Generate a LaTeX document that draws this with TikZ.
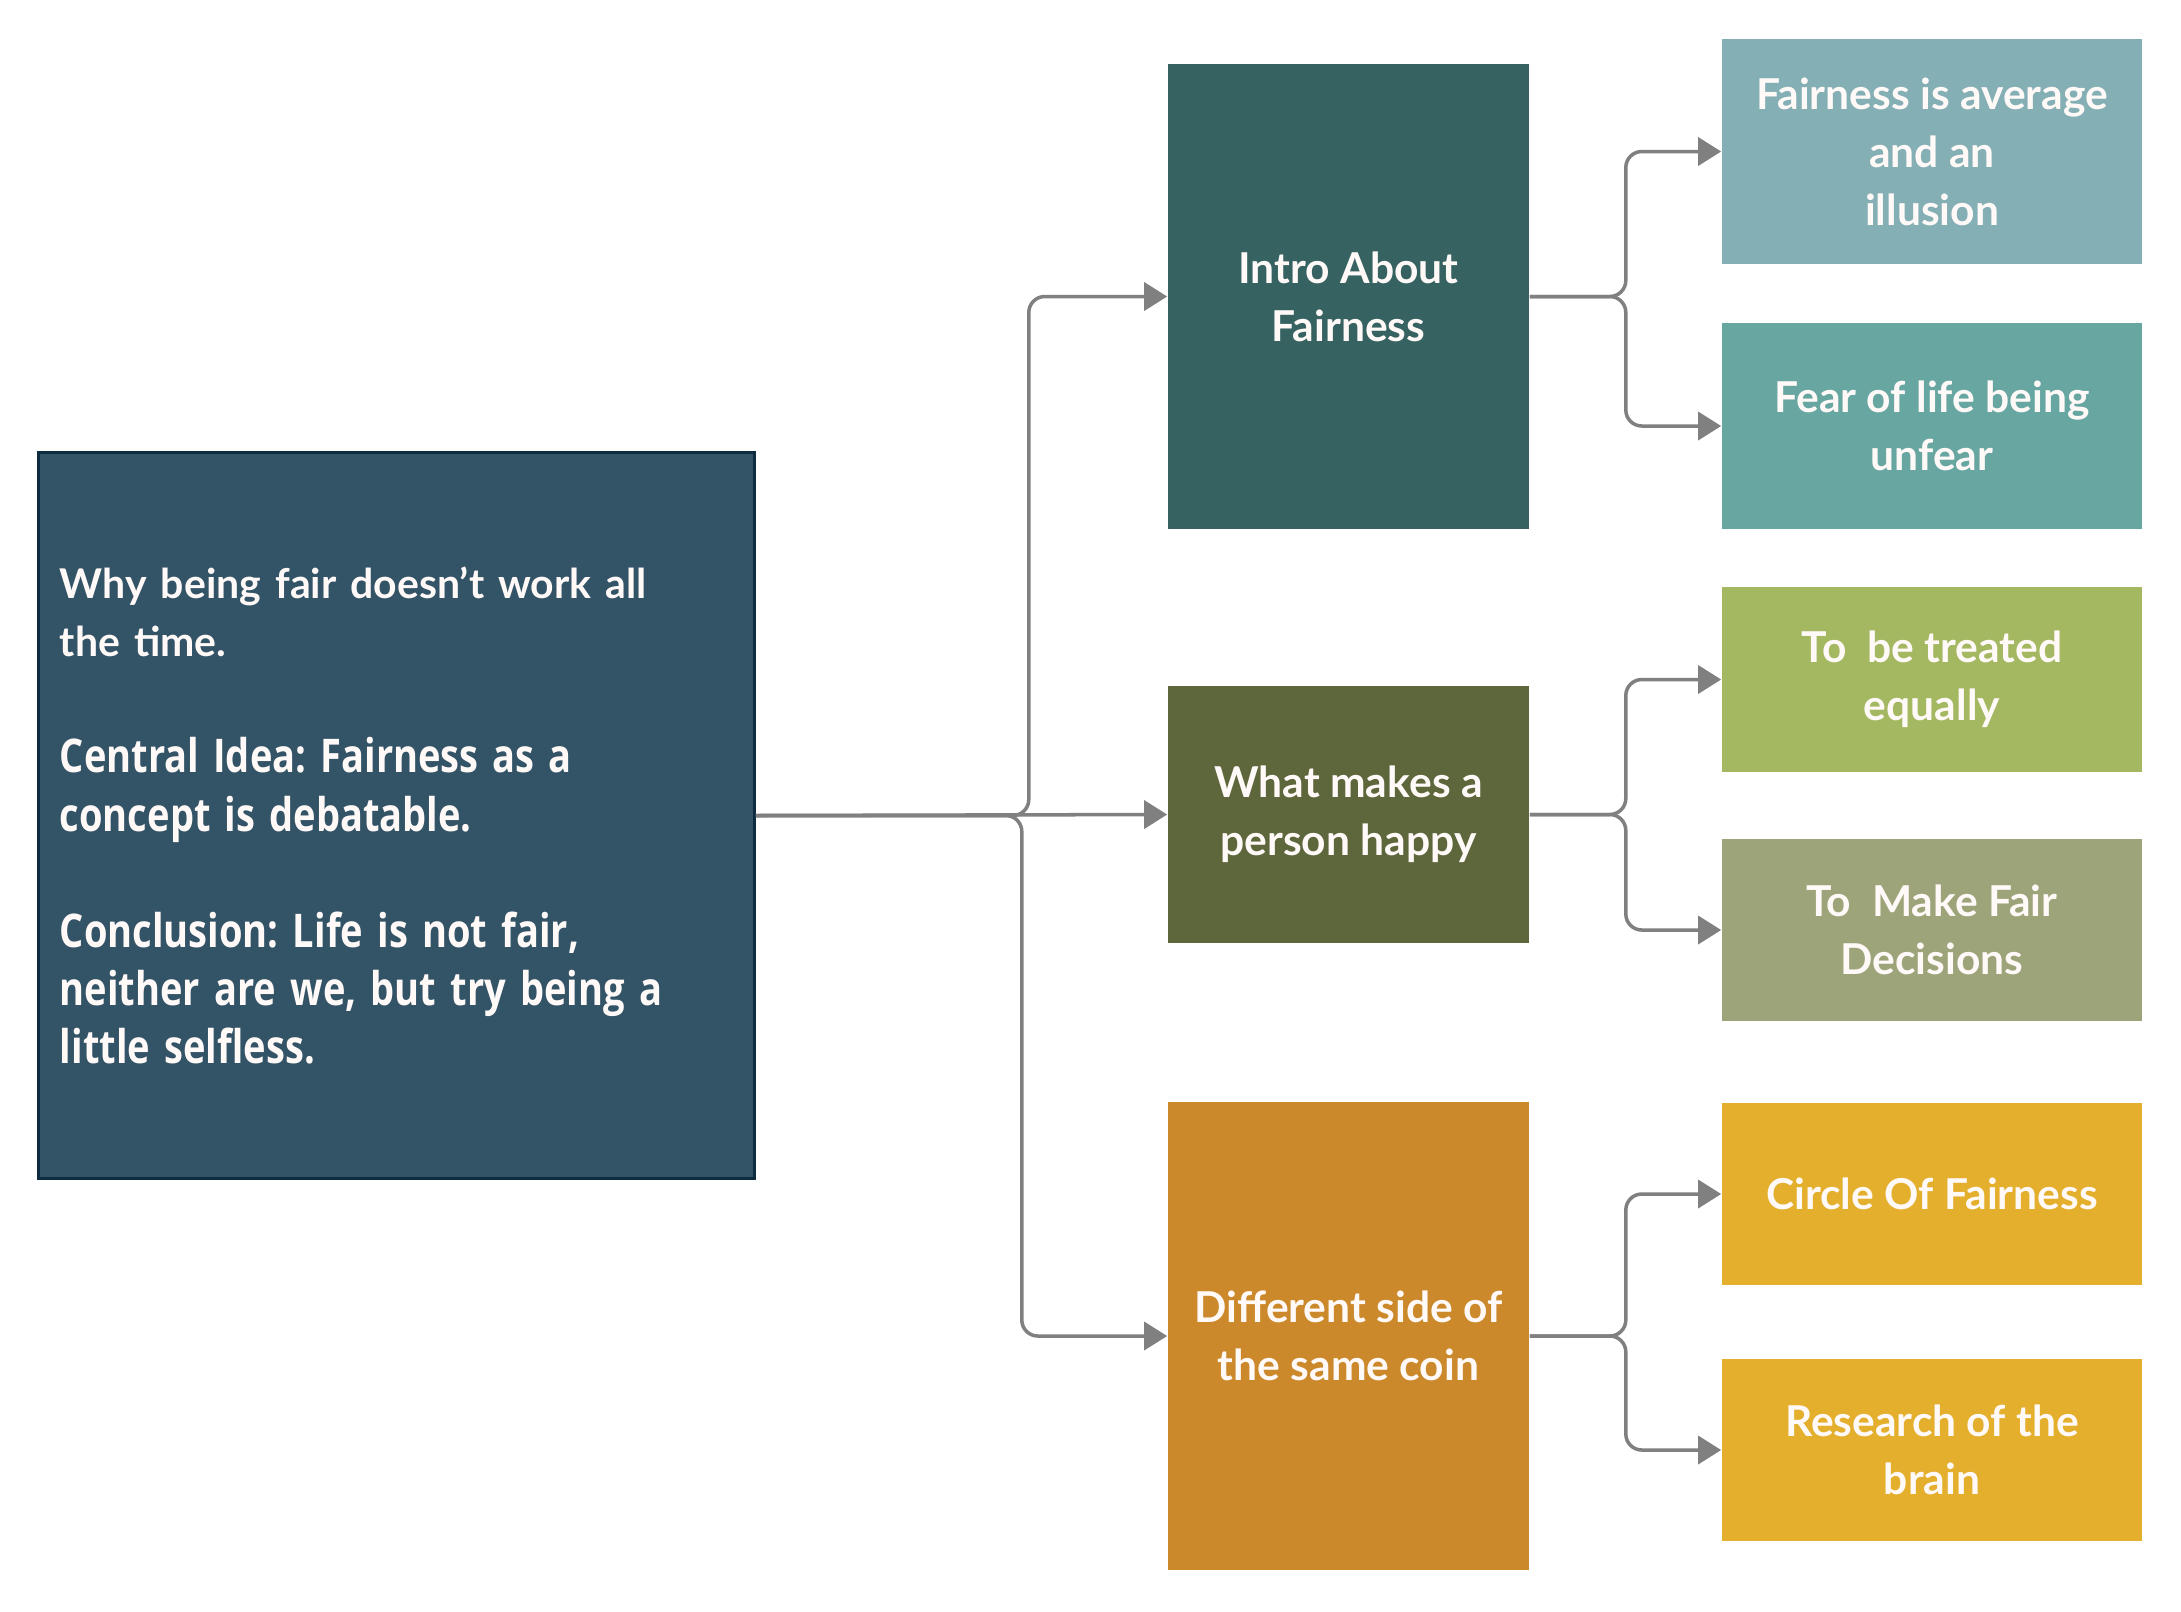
\documentclass[tikz,border=0pt]{standalone}
\usepackage{fontspec}
\setmainfont{Lato}
\newfontfamily\opensans{Open Sans}[FakeStretch=0.82,WordSpace=0.8]
\usepackage{xcolor}
\definecolor{cMain}{HTML}{335366}
\definecolor{cMainEdge}{HTML}{0E2C40}
\definecolor{cIntro}{HTML}{366361}
\definecolor{cHappy}{HTML}{5E663B}
\definecolor{cCoin}{HTML}{CC892B}
\definecolor{cAvg}{HTML}{84AFB4}
\definecolor{cFear}{HTML}{68A6A2}
\definecolor{cEqual}{HTML}{A4B761}
\definecolor{cDecide}{HTML}{9EA47A}
\definecolor{cGold}{HTML}{E4AF2D}
\definecolor{cLink}{HTML}{808080}
\definecolor{cText}{HTML}{FFF9F8}
\usepackage{tikz}
\usetikzlibrary{arrows.meta}
\frenchspacing
\tikzset{
  node-box/.style={rectangle,inner sep=0pt,align=center,text=cText,
    font=\bfseries\fontsize{12.1}{16.5}\selectfont},
  node-topic/.style={node-box,draw=cMainEdge,line width=0.9pt,fill=cMain,
    align=left,text width=6.73cm,minimum width=7.15cm,minimum height=7.25cm},
  node-mid/.style={node-box,minimum width=3.61cm},
  node-leaf/.style={node-box,minimum width=4.2cm},
  arrow/.style={-{Triangle[length=2.3mm,width=2.8mm]},line width=1pt,
    draw=cLink,rounded corners=1.6mm},
}

\begin{document}
\begin{tikzpicture}[x=0.01cm,y=-0.01cm]
  \useasboundingbox (0,0) rectangle (2181,1611);
  % main topic
  \node[node-topic] (topic) at (396.5,815.5)
    {{\fontsize{11.65}{16.5}\selectfont Why being fair doesn’t work all\\the time.}\\[\baselineskip]
     {\opensans\fontsize{13.2}{16.5}\selectfont Central Idea: Fairness as a\\concept is debatable.\\[\baselineskip]
     Conclusion: Life is not fair,\\neither are we, but try being a\\little selfless.}};
  % middle column
  \node[node-mid,fill=cIntro,minimum height=4.65cm] (intro) at (1348.5,296.5) {Intro About\\Fairness};
  \node[node-mid,fill=cHappy,minimum height=2.57cm] (happy) at (1348.5,814.5) {What makes a\\person happy};
  \node[node-mid,fill=cCoin,minimum height=4.68cm]  (coin)  at (1348.5,1336)  {Different side of\\the same coin};
  % right column
  \node[node-leaf,fill=cAvg,minimum height=2.25cm]    (avg)    at (1932,151.5) {Fairness is average\\and an\\illusion};
  \node[node-leaf,fill=cFear,minimum height=2.06cm]   (fear)   at (1932,426)   {Fear of life being\\unfear};
  \node[node-leaf,fill=cEqual,minimum height=1.85cm]  (equal)  at (1932,679.5) {To\ \ be treated\\equally};
  \node[node-leaf,fill=cDecide,minimum height=1.82cm] (decide) at (1932,930)   {To\ \ Make Fair\\Decisions};
  \node[node-leaf,fill=cGold,minimum height=1.82cm]   (circle) at (1932,1194)  {Circle Of Fairness};
  \node[node-leaf,fill=cGold,minimum height=1.82cm]   (brain)  at (1932,1450)  {Research of the\\brain};
  % connectors
  \draw[arrow] (topic.east) -- ++(273,0) |- (intro.west);
  \draw[arrow] (topic.east) -- (happy.west);
  \draw[arrow] (topic.east) -- ++(266,0) |- (coin.west);
  \draw[arrow] (intro.east) -- ++(96,0) |- (avg.west);
  \draw[arrow] (intro.east) -- ++(96,0) |- (fear.west);
  \draw[arrow] (happy.east) -- ++(96,0) |- (equal.west);
  \draw[arrow] (happy.east) -- ++(96,0) |- (decide.west);
  \draw[arrow] (coin.east)  -- ++(96,0) |- (circle.west);
  \draw[arrow] (coin.east)  -- ++(96,0) |- (brain.west);
\end{tikzpicture}
\end{document}
